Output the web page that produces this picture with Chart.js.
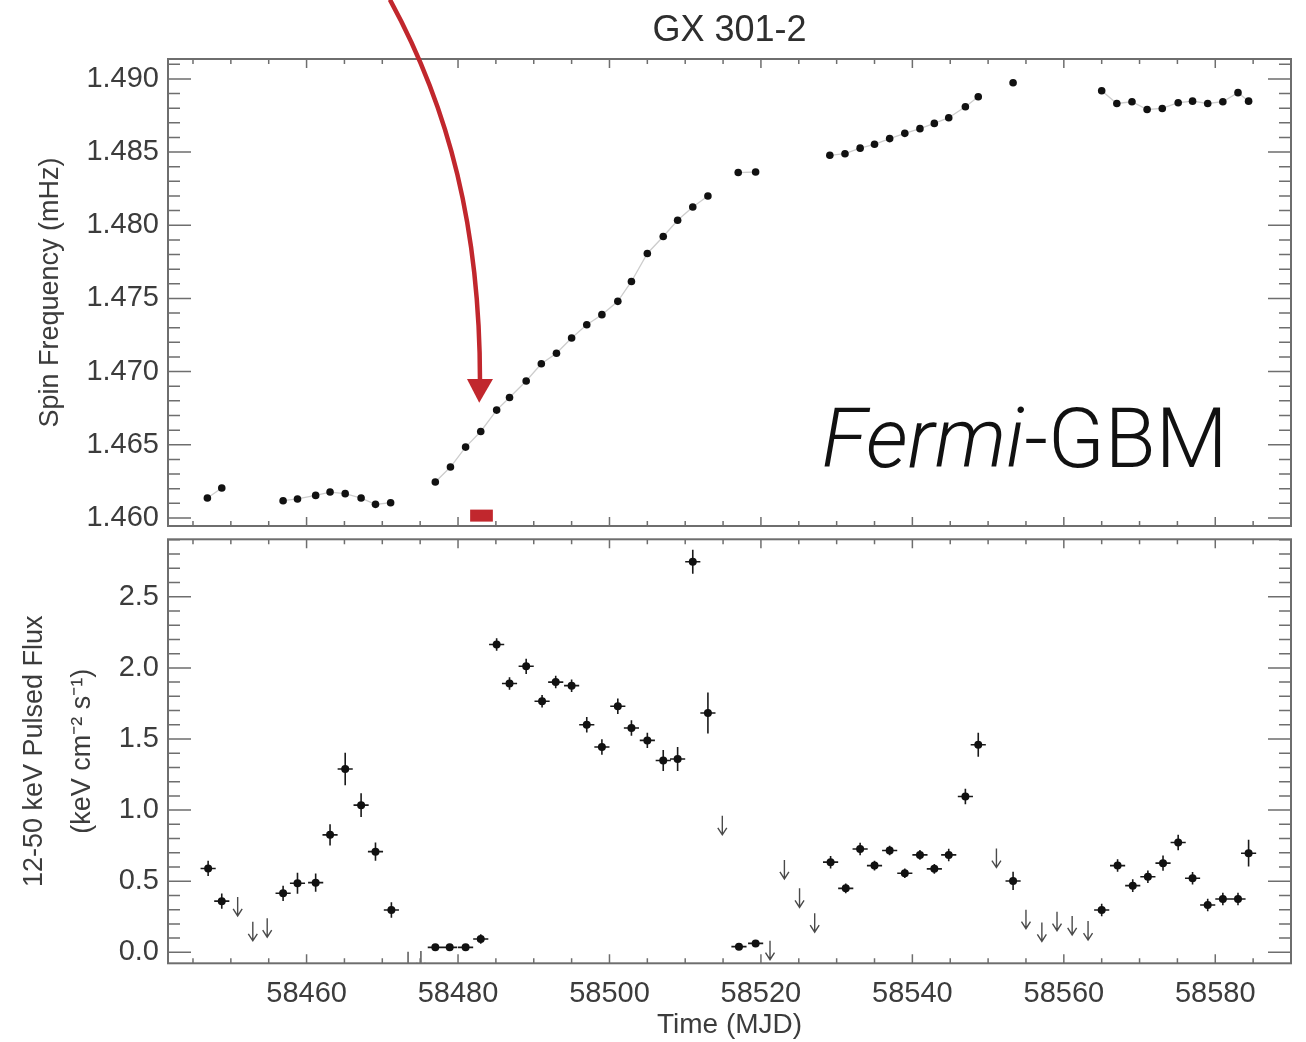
<!DOCTYPE html>
<html>
<head>
<meta charset="utf-8">
<script src="https://cdn.jsdelivr.net/npm/chart.js@4.4.1/dist/chart.umd.min.js"></script>
<style>
  html, body { margin: 0; padding: 0; background: #fff; }
  #wrap { position: relative; width: 1306px; height: 1042px; overflow: hidden; }
  #graficoSpin { position: absolute; left: 0; top: 0; }
  #graficoFluxo { position: absolute; left: 0; top: 530px; }
</style>
</head>
<body>
<div id="wrap">
  <canvas id="graficoSpin" width="1306" height="530"></canvas>
  <canvas id="graficoFluxo" width="1306" height="512"></canvas>
</div>
<script>
// ---- dados ----
const diasSpin = [58446.9, 58448.8, 58456.9, 58458.8, 58461.2, 58463.1, 58465.1, 58467.2, 58469.1, 58471.1,
  58477.0, 58479.0, 58481.0, 58483.0, 58485.1, 58486.8, 58489.0, 58491.0, 58493.0, 58495.0,
  58497.0, 58499.0, 58501.1, 58502.9, 58505.0, 58507.1, 58509.0, 58511.0, 58513.0, 58517.0,
  58519.3, 58529.1, 58531.1, 58533.1, 58535.0, 58537.0, 58539.0, 58541.0, 58542.9, 58544.8,
  58547.0, 58548.7, 58553.3, 58565.0, 58567.0, 58569.0, 58571.0, 58573.0, 58575.1, 58577.0,
  58579.0, 58581.0, 58583.0, 58584.4];
const freqSpin = [1.46136, 1.46205, 1.46118, 1.46130, 1.46154, 1.46177, 1.46166, 1.46136, 1.46093, 1.46104,
  1.46246, 1.46348, 1.46484, 1.46591, 1.46737, 1.46823, 1.46936, 1.47054, 1.47125, 1.47230,
  1.47320, 1.47389, 1.47480, 1.47616, 1.47807, 1.47923, 1.48034, 1.48125, 1.48200, 1.48360,
  1.48364, 1.48478, 1.48489, 1.48527, 1.48553, 1.48592, 1.48628, 1.48660, 1.48696, 1.48735,
  1.48810, 1.48878, 1.48974, 1.48919, 1.48832, 1.48844, 1.48791, 1.48798, 1.48837, 1.48848,
  1.48832, 1.48844, 1.48906, 1.48848];

const diasFluxo = [58447.0, 58448.8, 58456.9, 58458.8, 58461.2, 58463.1, 58465.1, 58467.2, 58469.1, 58471.2,
  58477.0, 58478.9, 58481.0, 58483.0, 58485.1, 58486.8, 58489.0, 58491.1, 58492.9, 58495.0,
  58497.0, 58499.0, 58501.1, 58502.9, 58505.0, 58507.1, 58509.0, 58511.0, 58513.0, 58517.1,
  58519.3, 58529.2, 58531.2, 58533.1, 58535.0, 58537.0, 58539.0, 58541.0, 58542.9, 58544.8,
  58547.0, 58548.7, 58553.3, 58565.0, 58567.1, 58569.1, 58571.1, 58573.1, 58575.1, 58577.0,
  58579.0, 58581.0, 58583.0, 58584.4];
const fluxo = [0.59, 0.36, 0.415, 0.486, 0.49, 0.826, 1.289, 1.035, 0.708, 0.298,
  0.035, 0.035, 0.035, 0.094, 2.164, 1.89, 2.011, 1.765, 1.90, 1.875,
  1.60, 1.444, 1.73, 1.577, 1.49, 1.349, 1.359, 2.746, 1.683, 0.04,
  0.063, 0.634, 0.45, 0.727, 0.61, 0.716, 0.556, 0.685, 0.587, 0.685,
  1.096, 1.46, 0.502, 0.298, 0.61, 0.469, 0.532, 0.627, 0.772, 0.521,
  0.333, 0.375, 0.375, 0.697];
const erroFluxo = [0.04, 0.04, 0.04, 0.06, 0.05, 0.06, 0.10, 0.07, 0.05, 0.04,
  0.01, 0.01, 0.01, 0.02, 0.03, 0.03, 0.04, 0.03, 0.03, 0.03,
  0.04, 0.04, 0.04, 0.04, 0.04, 0.06, 0.07, 0.07, 0.13, 0.01,
  0.01, 0.03, 0.02, 0.03, 0.02, 0.02, 0.02, 0.02, 0.02, 0.03,
  0.04, 0.07, 0.05, 0.03, 0.03, 0.03, 0.03, 0.04, 0.04, 0.03,
  0.03, 0.03, 0.03, 0.08];
const meiaLargura = 1.0; // meio intervalo de tempo de cada medida (dias)

const diasLimite = [58450.9, 58452.9, 58454.8, 58473.4, 58475.1, 58514.9, 58521.2, 58523.1, 58525.1, 58527.1,
  58551.1, 58555.0, 58557.1, 58559.1, 58561.1, 58563.2];
const limiteFluxo = [0.39, 0.215, 0.24, 0.005, 0.01, 0.96, 0.082, 0.65, 0.45, 0.275,
  0.73, 0.30, 0.21, 0.286, 0.256, 0.22];

const ticksDias = [58460, 58480, 58500, 58520, 58540, 58560, 58580];
const ticksFreq = [1.460, 1.465, 1.470, 1.475, 1.480, 1.485, 1.490];
const ticksFluxo = [0.0, 0.5, 1.0, 1.5, 2.0, 2.5];

// anotacoes (coordenadas de dados)
const setaInicio = {x: 58471.0, y: 1.49542};
const setaCtrl1 = {x: 58478.9, y: 1.48793};
const setaCtrl2 = {x: 58482.9, y: 1.47973};
const setaFim = {x: 58482.9, y: 1.46950};
const setaPonta = {x: 58482.8, y: 1.46787};
const blocoObs = {x0: 58481.6, x1: 58484.6, y0: 1.45975, y1: 1.46057};
const rotulo = {x: 58528.0, y: 1.46350};

const xMin = 58441.7, xMax = 58590;
const corTexto = '#3c3c3c';
const corVermelha = '#c1272d';

Chart.defaults.font.family = '"Liberation Sans", Arial, sans-serif';
Chart.defaults.color = corTexto;

// moldura com ticks para dentro, estilo IDL
const moldura = {
  id: 'moldura',
  afterDraw(chart, args, opts) {
    const {ctx, chartArea: a, scales: {x, y}} = chart;
    ctx.save();
    ctx.strokeStyle = '#6e6e6e';
    ctx.lineWidth = 1.5;
    ctx.beginPath();
    for (let v = Math.ceil(x.min / 5) * 5; v <= x.max; v += 5) {
      const px = x.getPixelForValue(v);
      const len = v % 20 === 0 ? 9 : 5;
      ctx.moveTo(px, a.top); ctx.lineTo(px, a.top + len);
      ctx.moveTo(px, a.bottom); ctx.lineTo(px, a.bottom - len);
    }
    const k0 = Math.ceil(y.min / opts.passo - 1e-6), k1 = Math.floor(y.max / opts.passo + 1e-6);
    for (let k = k0; k <= k1; k++) {
      const py = y.getPixelForValue(k * opts.passo);
      const len = k % 5 === 0 ? 23 : 12;
      ctx.moveTo(a.left, py); ctx.lineTo(a.left + len, py);
      ctx.moveTo(a.right, py); ctx.lineTo(a.right - len, py);
    }
    ctx.stroke();
    ctx.lineWidth = 2;
    ctx.strokeRect(a.left, a.top, a.right - a.left, a.bottom - a.top);
    ctx.restore();
  }
};

const anotacoes = {
  id: 'anotacoes',
  afterDraw(chart) {
    const {ctx, scales: {x, y}} = chart;
    const P = p => [x.getPixelForValue(p.x), y.getPixelForValue(p.y)];
    ctx.save();
    // bloco vermelho
    ctx.fillStyle = corVermelha;
    const bx0 = x.getPixelForValue(blocoObs.x0), bx1 = x.getPixelForValue(blocoObs.x1);
    const by0 = y.getPixelForValue(blocoObs.y0), by1 = y.getPixelForValue(blocoObs.y1);
    ctx.fillRect(bx0, by1, bx1 - bx0, by0 - by1);
    // seta curva
    const [sx, sy] = P(setaInicio), [c1x, c1y] = P(setaCtrl1), [c2x, c2y] = P(setaCtrl2);
    const [ex, ey] = P(setaFim), [tx, ty] = P(setaPonta);
    ctx.strokeStyle = corVermelha;
    ctx.lineWidth = 4.5;
    ctx.beginPath();
    ctx.moveTo(sx, sy);
    ctx.bezierCurveTo(c1x, c1y, c2x, c2y, ex, ey + 2);
    ctx.stroke();
    ctx.beginPath();
    ctx.moveTo(ex - 13, ey); ctx.lineTo(ex + 13, ey); ctx.lineTo(tx, ty);
    ctx.closePath();
    ctx.fill();
    // rotulo Fermi-GBM
    const [lx, ly] = P(rotulo);
    ctx.fillStyle = '#111';
    ctx.textBaseline = 'alphabetic';
    ctx.font = 'italic 300 83px Roboto, "Liberation Sans", sans-serif';
    ctx.fillText('Fermi', lx, ly);
    const w = ctx.measureText('Fermi').width;
    ctx.font = '300 83px Roboto, "Liberation Sans", sans-serif';
    ctx.fillText('-GBM', lx + w, ly);
    ctx.restore();
  }
};

const barrasErro = {
  id: 'barrasErro',
  beforeDatasetsDraw(chart) {
    const {ctx, scales: {x, y}} = chart;
    ctx.save();
    ctx.strokeStyle = '#1a1a1a';
    ctx.lineWidth = 1.6;
    ctx.beginPath();
    diasFluxo.forEach((d, i) => {
      const px = x.getPixelForValue(d), py = y.getPixelForValue(fluxo[i]);
      ctx.moveTo(x.getPixelForValue(d - meiaLargura), py);
      ctx.lineTo(x.getPixelForValue(d + meiaLargura), py);
      ctx.moveTo(px, y.getPixelForValue(fluxo[i] - erroFluxo[i]) + 2);
      ctx.lineTo(px, y.getPixelForValue(fluxo[i] + erroFluxo[i]) - 2);
    });
    ctx.stroke();
    ctx.restore();
  },
  afterDatasetsDraw(chart) {
    const {ctx, chartArea: a, scales: {x, y}} = chart;
    ctx.save();
    ctx.beginPath();
    ctx.rect(a.left, a.top, a.right - a.left, a.bottom - a.top);
    ctx.clip();
    ctx.strokeStyle = '#4a4a4a';
    ctx.lineWidth = 1.4;
    ctx.beginPath();
    diasLimite.forEach((d, i) => {
      const px = x.getPixelForValue(d), py = y.getPixelForValue(limiteFluxo[i]);
      ctx.moveTo(px, py); ctx.lineTo(px, py + 19);
      ctx.moveTo(px - 4.5, py + 12); ctx.lineTo(px, py + 19); ctx.lineTo(px + 4.5, py + 12);
    });
    ctx.stroke();
    ctx.restore();
  }
};

const cinzaLinha = 'rgba(0,0,0,0.2)';

function larguraY(s) { s.width = 168; s.paddingTop = 0; s.paddingBottom = 0; }
function alturaX(s) { s.height = 78.7; s.paddingLeft = 0; s.paddingRight = 0; }

const graficoSpin = new Chart(document.querySelector('#graficoSpin'), {
  type: 'scatter',
  data: {
    datasets: [{
      data: diasSpin.map((d, i) => ({x: d, y: freqSpin[i]})),
      showLine: true,
      borderWidth: 1.3,
      borderColor: cinzaLinha,
      segment: {
        borderColor: c => (c.p1.parsed.x - c.p0.parsed.x > 2.5 ? 'rgba(0,0,0,0)' : cinzaLinha)
      },
      pointRadius: 3.8,
      pointBackgroundColor: '#111',
      pointBorderWidth: 0
    }]
  },
  options: {
    responsive: false,
    animation: false,
    layout: {padding: {left: 0, right: 15, top: 0, bottom: 2}},
    plugins: {
      legend: {display: false},
      tooltip: {enabled: false},
      title: {
        display: true, text: 'GX 301-2', fullSize: false, color: '#2e2e2e',
        font: {size: 36, weight: 'normal'}, padding: {top: 9.5, bottom: 6.3}
      },
      moldura: {passo: 0.001}
    },
    scales: {
      x: {type: 'linear', min: xMin, max: xMax, display: false},
      y: {
        min: 1.45945, max: 1.49136,
        afterBuildTicks: s => { s.ticks = ticksFreq.map(v => ({value: v})); },
        afterFit: larguraY,
        grid: {display: false, drawTicks: false},
        border: {display: false},
        ticks: {padding: 9, color: corTexto, font: {size: 29}, callback: v => v.toFixed(3)},
        title: {display: true, text: 'Spin Frequency (mHz)', color: corTexto, font: {size: 27}, padding: {top: 34, bottom: 0}}
      }
    }
  },
  plugins: [moldura, anotacoes]
});

const graficoFluxo = new Chart(document.querySelector('#graficoFluxo'), {
  type: 'scatter',
  data: {
    datasets: [{
      data: diasFluxo.map((d, i) => ({x: d, y: fluxo[i]})),
      pointRadius: 4,
      pointBackgroundColor: '#111',
      pointBorderWidth: 0
    }]
  },
  options: {
    responsive: false,
    animation: false,
    layout: {padding: {left: 0, right: 15, top: 9.3, bottom: 0}},
    plugins: {
      legend: {display: false},
      tooltip: {enabled: false},
      moldura: {passo: 0.1}
    },
    scales: {
      x: {
        type: 'linear', min: xMin, max: xMax,
        afterBuildTicks: s => { s.ticks = ticksDias.map(v => ({value: v})); },
        afterFit: alturaX,
        grid: {display: false, drawTicks: false},
        border: {display: false},
        ticks: {padding: 13, maxRotation: 0, autoSkip: false, color: corTexto, font: {size: 29}, callback: v => String(v)},
        title: {display: true, text: 'Time (MJD)', color: corTexto, font: {size: 28}, padding: {top: 0, bottom: 0}}
      },
      y: {
        min: -0.077, max: 2.904,
        afterBuildTicks: s => { s.ticks = ticksFluxo.map(v => ({value: v})); },
        afterFit: larguraY,
        grid: {display: false, drawTicks: false},
        border: {display: false},
        ticks: {padding: 9, color: corTexto, font: {size: 29}, callback: v => v.toFixed(1)},
        title: {
          display: true, text: ['12-50 keV Pulsed Flux', '(keV cm\u207B\u00B2 s\u207B\u00B9)'], color: corTexto,
          font: {size: 27, lineHeight: 1.75}, padding: {top: 11.4, bottom: 0}
        }
      }
    }
  },
  plugins: [moldura, barrasErro]
});
</script>
</body>
</html>
